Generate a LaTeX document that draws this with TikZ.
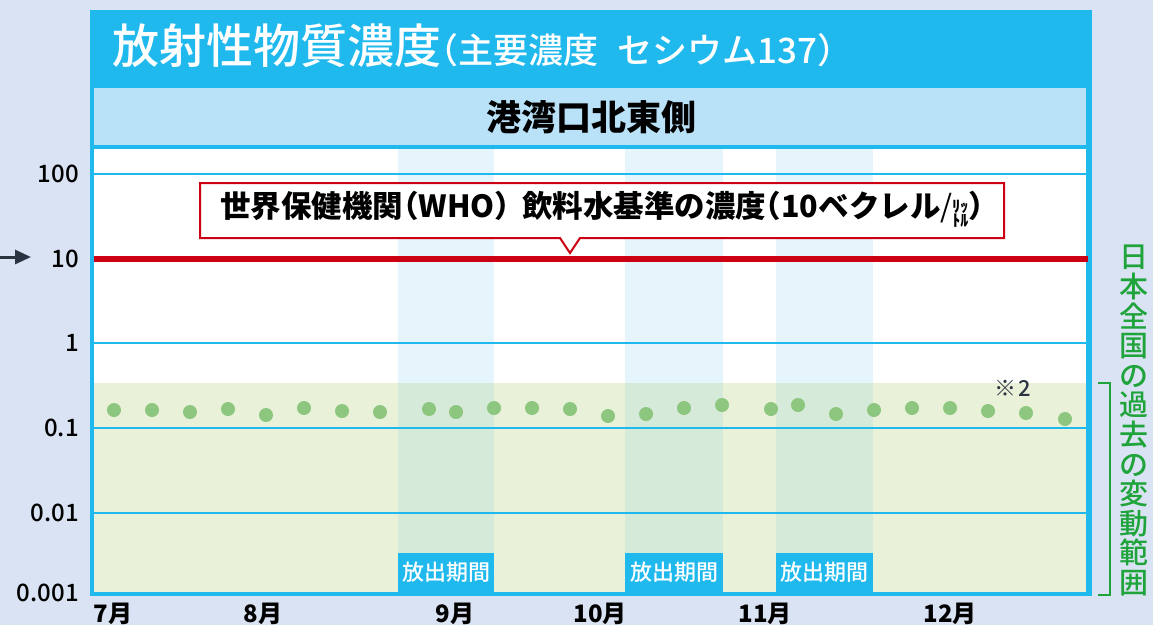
\documentclass[tikz,border=0pt]{standalone}
\usepackage{fontspec}
\setmainfont{Noto Sans CJK JP}[BoldFont={Noto Sans CJK JP Medium}]
\newfontfamily\jpheavy{Noto Sans CJK JP}
\usetikzlibrary{arrows.meta}
\newcommand{\hp}[1]{{\addfontfeature{RawFeature=+halt}#1}}
\definecolor{bgc}{HTML}{DAE3F3}
\definecolor{cyanc}{HTML}{20B9EE}
\definecolor{subc}{HTML}{B9E2F8}
\definecolor{colw}{HTML}{E6F4FC}
\definecolor{colg}{HTML}{D6EAD9}
\definecolor{greenband}{HTML}{E9F1D9}
\definecolor{dotc}{HTML}{8DC67F}
\definecolor{redc}{HTML}{CC0012}
\definecolor{greent}{HTML}{1FA33B}
\definecolor{darkc}{HTML}{2B3441}
\tikzset{
  ytick/.style={anchor=east, inner sep=0pt, text=black, font=\bfseries\fontsize{24}{24}\selectfont},
  monthlbl/.style={inner sep=0pt, text=black, font=\jpheavy\bfseries\fontsize{24}{24}\selectfont},
  datadot/.style={circle, fill=dotc, minimum size=14pt, inner sep=0pt},
  releasebox/.style={fill=cyanc, text=white, inner sep=0pt, minimum height=39pt, anchor=south west, font=\bfseries\fontsize{22}{22}\selectfont},
  gridl/.style={draw=cyanc, line width=2.5pt},
}
\begin{document}
\begin{tikzpicture}[x=1pt,y=-1pt]
\useasboundingbox (0,0) rectangle (1153,625);
\fill[bgc] (0,0) rectangle (1153,625);
% frame
\fill[cyanc] (90,10) rectangle (1092,596);
\fill[subc] (94,88) rectangle (1086,145);
\fill[white] (94,149) rectangle (1086,592);
% historical range band
\fill[greenband] (94,383) rectangle (1086,592);
% release periods
\foreach \a/\b in {398/494, 625/723, 776/873}{
  \fill[colw] (\a,149) rectangle (\b,383);
  \fill[colg] (\a,383) rectangle (\b,592);
}
% grid lines
\foreach \yy in {174,343,428,513}{
  \draw[gridl] (94,\yy) -- (1086,\yy);
}
% WHO line
\draw[redc, line width=6pt] (94,259) -- (1088,259);
% titles
\node[anchor=base west, inner sep=0pt, text=white] (title) at (112,63)
  {{\bfseries\fontsize{47}{47}\selectfont 放射性物質濃度}{\bfseries\fontsize{35}{35}\selectfont \hp{（}主要濃度\hspace{0.55em}セシウム137\hp{）}}};
\node[inner sep=0pt, text=black, font=\jpheavy\bfseries\fontsize{35}{35}\selectfont] (sub) at (591,117) {港湾口北東側};
% WHO callout
\draw[redc, line width=2pt, fill=white] (200,183) -- (1004,183) -- (1004,238) -- (580,238) -- (570,253) -- (560,238) -- (200,238) -- cycle;
\node[inner sep=0pt, text=black, font=\jpheavy\bfseries\fontsize{30.5}{30.5}\selectfont] (who) at (602,211)
  {世界保健機関\hp{（}WHO\hp{）}\hspace{0.4em}飲料水基準の濃度\hp{（}10ベクレル{\mdseries/}\raisebox{-0.1ex}{\fontsize{16}{13}\selectfont\begin{tabular}{@{}c@{}}ﾘｯ\\[-2pt]ﾄﾙ\end{tabular}}\hp{）}};
% y ticks
\node[ytick] (t100) at (79,174) {100};
\node[ytick] (t10) at (79,259) {10};
\node[ytick] (t1) at (79,343) {1};
\node[ytick] (t01) at (79,428) {0.1};
\node[ytick] (t001) at (79,513) {0.01};
\node[ytick] (t0001) at (79,593) {0.001};
% arrow
\coordinate (arrS) at (0,257);
\coordinate (arrE) at (31,257);
\draw[darkc, line width=3pt, -{Triangle[length=16pt,width=14pt]}] (arrS) -- (arrE);
% data points
\foreach \px/\py [count=\i] in {114/410,152/410,190/412,228/409,266/415,304/408,342/411,380/412,429/409,456/412,494/408,532/408,570/409,608/416,646/414,684/408,722/405,771/409,798/405,836/414,874/410,912/408,950/408,988/411,1026/413,1065/419}{
  \node[datadot] (d\i) at (\px,\py) {};
}
\node[inner sep=0pt, text=darkc, font=\bfseries\fontsize{22}{22}\selectfont] (note) at (1013,388) {※\hspace{0.1em}2};
% release labels
\node[releasebox, minimum width=96pt] (r1) at (398,592) {放出期間};
\node[releasebox, minimum width=98pt] (r2) at (625,592) {放出期間};
\node[releasebox, minimum width=97pt] (r3) at (776,592) {放出期間};
% months
\node[monthlbl] (m7) at (113,614) {7月};
\node[monthlbl] (m8) at (263,614) {8月};
\node[monthlbl] (m9) at (455,614) {9月};
\node[monthlbl] (m10) at (600,614) {10月};
\node[monthlbl] (m11) at (765,614) {11月};
\node[monthlbl] (m12) at (950,614) {12月};
% range bracket and label
\draw[greent, line width=2.5pt] (1098,383) -- (1110,383) -- (1110,595) -- (1098,595);
\node[anchor=north, inner sep=0pt, text=greent, align=center, font=\bfseries\fontsize{29}{29.6}\selectfont] (range) at (1134,245)
  {日\\本\\全\\国\\の\\過\\去\\の\\変\\動\\範\\囲};
\end{tikzpicture}
\end{document}
